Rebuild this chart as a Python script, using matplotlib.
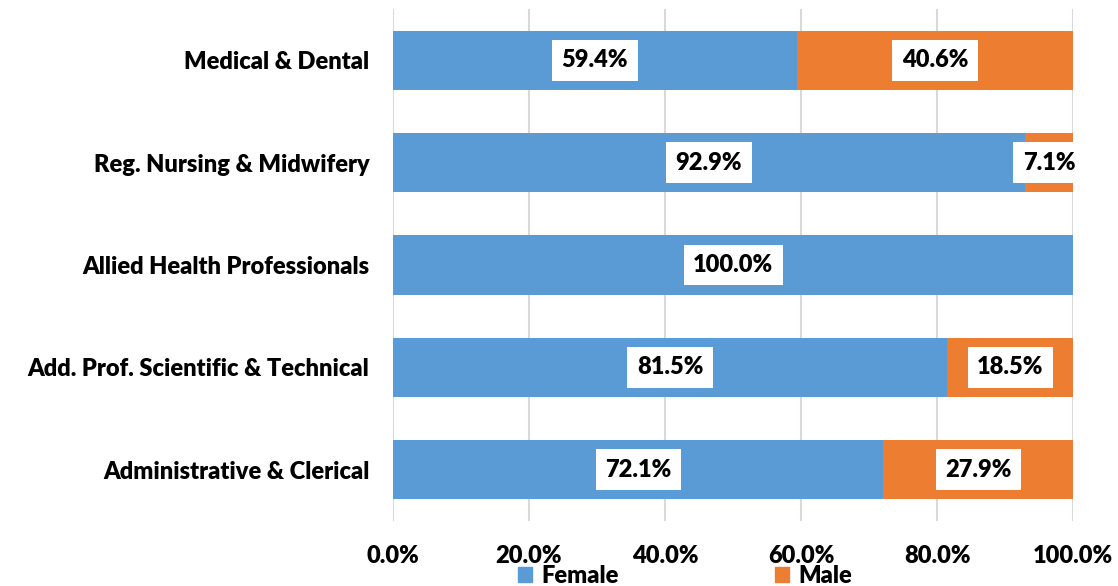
import matplotlib
matplotlib.use("Agg")
import matplotlib.pyplot as plt
from matplotlib.patches import Patch
import numpy as np

categories = ["Medical & Dental", "Reg. Nursing & Midwifery", "Allied Health Professionals",
              "Add. Prof. Scientific & Technical", "Administrative & Clerical"]
female = [59.4, 92.9, 100.0, 81.5, 72.1]
male = [40.6, 7.1, 0.0, 18.5, 27.9]
xticks = [0, 20, 40, 60, 80, 100]

blue = "#5B9BD5"
orange = "#ED7D31"
font = "Lato"
wt = "heavy"
fs = 17

fig = plt.figure(figsize=(11.18, 5.86), dpi=100)
ax = fig.add_axes([0.3515, 0.111, 0.6083, 0.8736])

y = np.arange(len(categories))[::-1]
h = 0.58
ax.barh(y, female, height=h, color=blue, label="Female", zorder=2)
ax.barh(y, male, left=female, height=h, color=orange, label="Male", zorder=2)

for yi, f, m in zip(y, female, male):
    for left, v in ((0, f), (f, m)):
        if v > 0:
            ax.text(left + v / 2, yi, f"{v:.1f}%", ha="center", va="center",
                    fontsize=fs, fontweight=wt, family=font, zorder=3,
                    bbox=dict(boxstyle="square,pad=0.4", fc="white", ec="none"))

ax.set_xlim(0, 100)
ax.set_ylim(-0.5, len(categories) - 0.5)
ax.set_xticks(xticks)
ax.set_xticklabels([f"{t:.1f}%" for t in xticks], fontsize=fs, fontweight=wt, family=font)
ax.set_yticks(y)
ax.set_yticklabels(categories, fontsize=fs, fontweight=wt, family=font)
ax.tick_params(axis="both", length=0)
ax.tick_params(axis="x", pad=17)
ax.tick_params(axis="y", pad=17)
for s in ax.spines.values():
    s.set_visible(False)
ax.grid(axis="x", color="#D9D9D9", linewidth=1.5, zorder=0)
ax.set_axisbelow(True)

handles = [Patch(color=blue, label="Female"), Patch(color=orange, label="Male")]
fig.legend(handles=handles, loc="center", bbox_to_anchor=(0.613, 0.017), ncol=2,
           frameon=False, handlelength=0.6, handleheight=0.6, handletextpad=0.4,
           columnspacing=6.6, borderpad=0.0, prop=dict(family=font, weight=wt, size=fs))

fig.savefig("out.png", dpi=100)
